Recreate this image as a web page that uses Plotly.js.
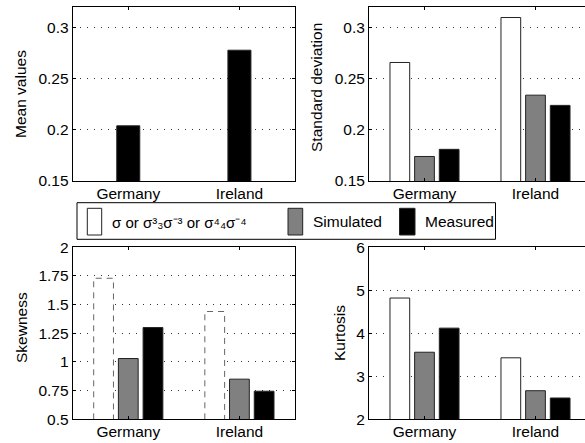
<!DOCTYPE html>
<html>
<head>
<meta charset="utf-8">
<script src="https://cdn.plot.ly/plotly-3.0.1.min.js"></script>
<style>html,body{margin:0;padding:0;background:#fff}#chart{width:585px;height:443px}</style>
</head>
<body>
<div id="chart"></div>
<script>
// ---- data ----
const categories = ['Germany', 'Ireland'];
const catPos = [1, 2];
const meanMeasured = [0.204, 0.278];
const stdTheory = [0.266, 0.310];
const stdSimulated = [0.174, 0.234];
const stdMeasured = [0.181, 0.224];
const skewTheory = [1.73, 1.44];
const skewSimulated = [1.03, 0.85];
const skewMeasured = [1.30, 0.745];
const kurtTheory = [4.82, 3.43];
const kurtSimulated = [3.56, 2.665];
const kurtMeasured = [4.12, 2.495];
const legendNames = ['σ or σ³₃σ⁻³ or σ⁴₄σ⁻⁴', 'Simulated', 'Measured'];

// ---- helpers ----
const W = 585, H = 443;
const px = x => x / W;
const py = y => 1 - y / H;
const FONT = '"Liberation Sans", Arial, Helvetica, sans-serif';
const FS = 15.5;
const edge = {color: '#222', width: 1};
const BARGAP = 1/3, GROUPGAP = 0.2;

function bar(x, y, color, xa, ya, extra) {
  return Object.assign({
    type: 'bar', x: x, y: y, xaxis: xa, yaxis: ya,
    marker: {color: color, line: edge}, showlegend: false, hoverinfo: 'skip'
  }, extra || {});
}

const traces = [
  bar(catPos, meanMeasured, '#000', 'x', 'y', {width: 0.207}),
  bar(catPos, stdTheory, '#fff', 'x2', 'y2'),
  bar(catPos, stdSimulated, '#808080', 'x2', 'y2'),
  bar(catPos, stdMeasured, '#000', 'x2', 'y2'),
  bar(catPos, skewTheory, '#fff', 'x3', 'y3', {marker: {color: '#fff', line: {width: 0}}}),
  bar(catPos, skewSimulated, '#808080', 'x3', 'y3'),
  bar(catPos, skewMeasured, '#000', 'x3', 'y3'),
  bar(catPos, kurtTheory, '#fff', 'x4', 'y4'),
  bar(catPos, kurtSimulated, '#808080', 'x4', 'y4'),
  bar(catPos, kurtMeasured, '#000', 'x4', 'y4')
];

// dashed outlines of the skewness "theory" bars (derived from data)
const slot = (1 - BARGAP) / 3;
const half = slot * (1 - GROUPGAP) / 2;
const shapes = [];
catPos.forEach((c, i) => {
  const xc = c - slot;
  const x0 = xc - half, x1 = xc + half, y0 = 0.5, y1 = skewTheory[i];
  shapes.push({type: 'path', xref: 'x3', yref: 'y3', layer: 'above',
    path: `M${x0},${y0} L${x0},${y1} L${x1},${y1} L${x1},${y0}`,
    line: {color: '#666', width: 1, dash: '6px,5px'}});
});

// custom legend box
shapes.push({type: 'rect', xref: 'paper', yref: 'paper', x0: px(77), x1: px(495.5), y0: py(239.3), y1: py(202.7),
  line: {color: '#000', width: 1}, fillcolor: '#fff', layer: 'above'});
[[87.3, 101.7, '#fff'], [288, 302.7, '#808080'], [399.5, 415, '#000']].forEach(s => {
  shapes.push({type: 'rect', xref: 'paper', yref: 'paper', x0: px(s[0]), x1: px(s[1]), y0: py(235), y1: py(208.3),
    line: {color: '#222', width: 1}, fillcolor: s[2], layer: 'above'});
});

const ann = [];
function txt(x, y, t, size) {
  ann.push({xref: 'paper', yref: 'paper', x: px(x), y: py(y), text: t, showarrow: false,
    xanchor: 'left', yanchor: 'middle', font: {family: FONT, size: size, color: '#000'}, borderpad: 0});
}
txt(110.5, 222, legendNames[0], 15);
txt(312, 221.5, legendNames[1], FS);
txt(424, 221.5, legendNames[2], FS);

// y titles
function ytitle(x, y, t) {
  ann.push({xref: 'paper', yref: 'paper', x: px(x), y: py(y), text: t, textangle: -90, showarrow: false,
    xanchor: 'center', yanchor: 'middle', font: {family: FONT, size: FS, color: '#000'}});
}
ytitle(21, 94, 'Mean values');
ytitle(317, 88, 'Standard deviation');
ytitle(21, 328, 'Skewness');
ytitle(339, 333, 'Kurtosis');

const gridDash = '1px,6px';
function xaxis(dom, range, anchor) {
  return {domain: dom, range: range, anchor: anchor, tickvals: catPos, ticktext: categories,
    showline: true, linecolor: '#000', linewidth: 1, mirror: 'ticks', ticks: 'inside', ticklen: 3, tickcolor: '#000',
    ticklabelstandoff: -2,
    showgrid: false, zeroline: false, fixedrange: true, tickfont: {family: FONT, size: FS, color: '#000'}};
}
function yaxis(dom, range, vals, labels, anchor, mirror) {
  return {domain: dom, range: range, anchor: anchor, tickvals: vals, ticktext: labels,
    showline: true, linecolor: '#000', linewidth: 1, mirror: mirror, ticks: 'inside', ticklen: 3, tickcolor: '#000',
    showgrid: true, gridcolor: '#333', gridwidth: 1, griddash: gridDash, zeroline: false, fixedrange: true,
    tickfont: {family: FONT, size: FS, color: '#000'}};
}
const xL = [px(72.7), px(295)], xR = [px(369), 1];
const yT = [py(181), py(7.3)], yB = [py(419.3), py(247.3)];
const tTop = [0.15, 0.2, 0.25, 0.3], lTop = ['0.15', '0.2', '0.25', '0.3'];

const layout = {
  width: W, height: H, margin: {l: 0, r: 0, t: 0, b: 0},
  paper_bgcolor: '#fff', plot_bgcolor: '#fff', showlegend: false,
  barmode: 'group', bargap: BARGAP, bargroupgap: GROUPGAP,
  font: {family: FONT, size: FS, color: '#000'},
  xaxis: xaxis(xL, [0.5, 2.5], 'y'),
  yaxis: yaxis(yT, [0.15, 0.32], tTop, lTop, 'x', 'ticks'),
  xaxis2: xaxis(xR, [0.5, 0.5 + 216 / 111], 'y2'),
  yaxis2: yaxis(yT, [0.15, 0.32], tTop, lTop, 'x2', false),
  xaxis3: xaxis(xL, [0.5, 2.5], 'y3'),
  yaxis3: yaxis(yB, [0.5, 2], [0.5, 0.75, 1, 1.25, 1.5, 1.75, 2], ['0.5', '0.75', '1', '1.25', '1.5', '1.75', '2'], 'x3', 'ticks'),
  xaxis4: xaxis(xR, [0.5, 0.5 + 216 / 111], 'y4'),
  yaxis4: yaxis(yB, [2, 6], [2, 3, 4, 5, 6], ['2', '3', '4', '5', '6'], 'x4', false),
  shapes: shapes, annotations: ann
};

Plotly.newPlot('chart', traces, layout, {staticPlot: true, displayModeBar: false});
</script>
</body>
</html>
